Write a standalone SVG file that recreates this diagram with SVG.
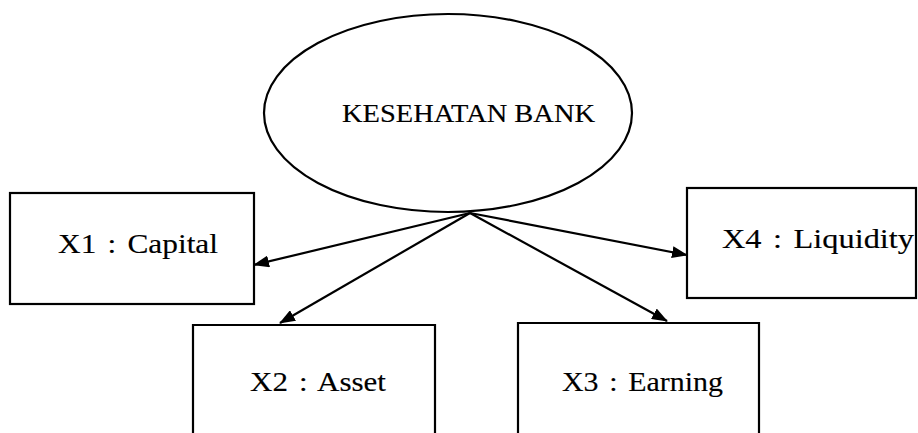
<svg xmlns="http://www.w3.org/2000/svg" width="918" height="433" viewBox="0 0 918 433">
  <style>
    .shape { fill: #fff; stroke: #000; stroke-width: 2.2; }
    .label { font-family: "Liberation Serif", "Times New Roman", serif; font-size: 28px; fill: #000; stroke: #000; stroke-width: 0.15; word-spacing: 3px; }
    .title { font-size: 26px; word-spacing: 0; }
    .edge { stroke: #000; stroke-width: 2.2; fill: none; marker-end: url(#arrow); }
  </style>
  <defs>
    <marker id="arrow" viewBox="0 0 16 12" refX="15" refY="6" markerWidth="16" markerHeight="12" markerUnits="userSpaceOnUse" orient="auto">
      <path d="M0,0 L16,6 L0,12 Z" fill="#000"/>
    </marker>
  </defs>

  <rect width="918" height="433" fill="#fff"/>

  <!-- latent construct -->
  <g id="kesehatan-bank">
    <ellipse class="shape" cx="448" cy="113" rx="184" ry="99"/>
    <text class="label title" x="342" y="122" textLength="253" lengthAdjust="spacingAndGlyphs">KESEHATAN BANK</text>
  </g>

  <!-- indicators -->
  <g id="x1-capital">
    <rect class="shape" x="10" y="193" width="244" height="111"/>
    <text class="label" x="58" y="253" textLength="160" lengthAdjust="spacingAndGlyphs">X1 : Capital</text>
  </g>

  <g id="x4-liquidity">
    <rect class="shape" x="687" y="188" width="229" height="110"/>
    <text class="label" x="722" y="248" textLength="192" lengthAdjust="spacingAndGlyphs">X4 : Liquidity</text>
  </g>

  <g id="x2-asset">
    <path class="shape" d="M193,440 L193,325 L435,325 L435,440"/>
    <text class="label" x="250" y="391" textLength="136" lengthAdjust="spacingAndGlyphs">X2 : Asset</text>
  </g>

  <g id="x3-earning">
    <path class="shape" d="M518,440 L518,323 L759,323 L759,440"/>
    <text class="label" x="562" y="391" textLength="161" lengthAdjust="spacingAndGlyphs">X3 : Earning</text>
  </g>

  <!-- loadings from the construct to each indicator -->
  <g id="connectors">
    <line class="edge" x1="470" y1="213" x2="254" y2="265"/>
    <line class="edge" x1="470" y1="213" x2="687" y2="255"/>
    <line class="edge" x1="470" y1="213" x2="280" y2="323"/>
    <line class="edge" x1="470" y1="213" x2="667" y2="321"/>
  </g>
</svg>
